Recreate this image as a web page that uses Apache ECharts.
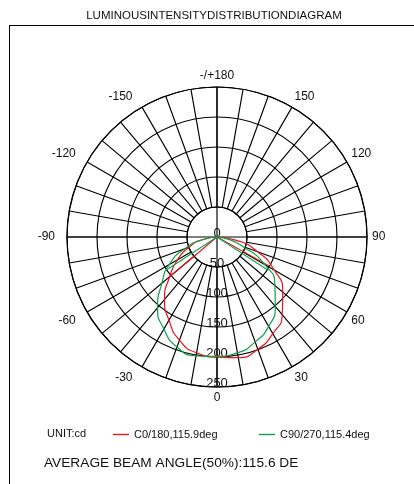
<!DOCTYPE html>
<html>
<head>
<meta charset="utf-8">
<script src="https://cdn.jsdelivr.net/npm/echarts@6/dist/echarts.min.js"></script>
<style>
html,body{margin:0;padding:0;background:#fff;}
#chart{width:414px;height:484px;}
</style>
</head>
<body>
<div id="chart"></div>
<script>
// ---- data ----
const angleLabels = ['0','30','60','90','120','150','-/+180','-150','-120','-90','-60','-30'];
const radiusTicks = ['0','50','100','150','200','250'];
const gammas = [-90,-80,-70,-60,-50,-40,-30,-20,-10,0,10,20,30,40,50,60,70,80,90];
const c0_180 = [0,22,50,76,103,136,160,183,196,200,204,199,186,169,143,110,72,33,0];
const c90_270 = [0,22,57,92,120,154,177,195,201,199,196,186,172,151,126,92,45,15,0];
const c0_180Beam = [[103,-50],[0,0],[101,61]];   // [cd, gamma]
const c90_270Beam = [[100,-57],[0,0],[100,57]];
const seriesNames = ['C0/180,115.9deg','C90/270,115.4deg'];
const titleText = 'LUMINOUSINTENSITYDISTRIBUTIONDIAGRAM';
const unitText = 'UNIT:cd';
const footText = 'AVERAGE BEAM ANGLE(50%):115.6 DE';

const RED = '#e8151b', GREEN = '#10a04a';
const FONT = 'Liberation Sans';
const toAng = g => (g < 0 ? g + 360 : g);
const curve = vals => gammas.map((g, i) => [vals[i], toAng(g)]);
const chord = arr => arr.map(p => [p[0], toAng(p[1])]);

const chart = echarts.init(document.getElementById('chart'), null, {renderer: 'canvas'});
const center = [217, 237];
const GRID = {color: '#000', width: 1.15};
const option = {
  animation: false,
  textStyle: {fontFamily: FONT},
  polar: [
    {center: center, radius: [30, 150]},
    {center: center, radius: [0, 150]}
  ],
  angleAxis: [
    {
      polarIndex: 0, type: 'value', min: 0, max: 360, interval: 10,
      startAngle: 270, clockwise: false,
      axisLine: {show: true, lineStyle: GRID},
      axisTick: {show: false},
      axisLabel: {
        show: true, margin: 5, color: '#111', fontSize: 12, fontFamily: FONT,
        formatter: v => {
          if (v % 30 !== 0 || v >= 360) return '';
          const t = angleLabels[v / 30];
          return t.charAt(0) === '-' && t !== '-/+180' ? '{n|' + t + '}' : t;
        },
        rich: {n: {fontSize: 12, fontFamily: FONT, color: '#111', padding: [0, 7, 0, 0]}}
      },
      splitLine: {show: true, lineStyle: GRID}
    },
    {
      polarIndex: 1, type: 'value', min: 0, max: 360, interval: 90,
      startAngle: 270, clockwise: false,
      axisLine: {show: false}, axisTick: {show: false}, axisLabel: {show: false},
      splitLine: {show: true, lineStyle: GRID}
    }
  ],
  radiusAxis: [
    {polarIndex: 0, type: 'value', min: 0, max: 1, show: false, splitLine: {show: false}},
    {
      polarIndex: 1, type: 'value', min: 0, max: 250, interval: 50,
      axisLine: {show: false}, axisTick: {show: false},
      splitLine: {show: true, lineStyle: GRID},
      axisLabel: {
        show: true, margin: 0, rotate: 0, color: '#111', fontSize: 13, fontFamily: FONT,
        align: 'center', verticalAlign: 'bottom', lineHeight: 8,
        formatter: v => radiusTicks[Math.round(v / 50)]
      }
    }
  ],
  legend: [
    {
      data: [{name: seriesNames[0], icon: 'rect'}], left: 108, top: 424,
      itemWidth: 16, itemHeight: 1.4, itemGap: 5, selectedMode: false,
      textStyle: {fontSize: 11, color: '#111', fontFamily: FONT}
    },
    {
      data: [{name: seriesNames[1], icon: 'rect'}], left: 254, top: 424,
      itemWidth: 16, itemHeight: 1.4, itemGap: 5, selectedMode: false,
      textStyle: {fontSize: 11, color: '#111', fontFamily: FONT}
    }
  ],
  series: [
    {name: seriesNames[0], type: 'line', coordinateSystem: 'polar', polarIndex: 1,
     data: curve(c0_180), smooth: 0.6, symbol: 'none', z: 5,
     lineStyle: {color: RED, width: 1.2}, itemStyle: {color: RED}},
    {name: seriesNames[0], type: 'line', coordinateSystem: 'polar', polarIndex: 1,
     data: chord(c0_180Beam), symbol: 'none', z: 5,
     lineStyle: {color: RED, width: 1.1}, itemStyle: {color: RED}},
    {name: seriesNames[1], type: 'line', coordinateSystem: 'polar', polarIndex: 1,
     data: curve(c90_270), smooth: 0.6, symbol: 'none', z: 5,
     lineStyle: {color: GREEN, width: 1.2}, itemStyle: {color: GREEN}},
    {name: seriesNames[1], type: 'line', coordinateSystem: 'polar', polarIndex: 1,
     data: chord(c90_270Beam), symbol: 'none', z: 5,
     lineStyle: {color: GREEN, width: 1.1}, itemStyle: {color: GREEN}}
  ],
  graphic: [
    {type: 'text', x: 214, y: 16, style: {text: titleText, fill: '#111', font: '11.5px "' + FONT + '"', textAlign: 'center', textVerticalAlign: 'middle'}},
    {type: 'line', shape: {x1: 9, y1: 25.5, x2: 414, y2: 25.5}, style: {stroke: '#000', lineWidth: 1}},
    {type: 'line', shape: {x1: 9.5, y1: 25, x2: 9.5, y2: 484}, style: {stroke: '#000', lineWidth: 1}},
    {type: 'text', x: 47, y: 434, style: {text: unitText, fill: '#111', font: '11px "' + FONT + '"', textVerticalAlign: 'middle'}},
    {type: 'text', x: 44, y: 463, style: {text: footText, fill: '#111', font: '13.7px "' + FONT + '"', textVerticalAlign: 'middle'}}
  ]
};
chart.setOption(option);
</script>
</body>
</html>
